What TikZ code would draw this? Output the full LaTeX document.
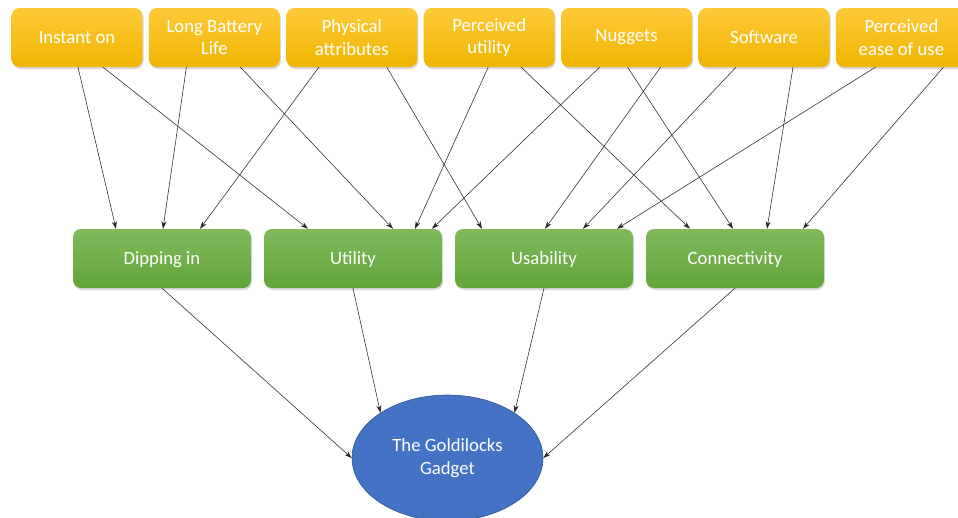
\documentclass[tikz,border=0pt]{standalone}
\usepackage{fontspec}
\setmainfont{Carlito}
\usetikzlibrary{shapes.geometric,shadows,arrows.meta}

\definecolor{goldtop}{HTML}{FFCA3A}
\definecolor{goldbot}{HTML}{EFB500}
\definecolor{greentop}{HTML}{80BA5C}
\definecolor{greenbot}{HTML}{62A43A}
\definecolor{gadgetblue}{HTML}{4472C4}
\definecolor{gadgetedge}{HTML}{2F528F}

\newcommand{\feedArrow}[4]{% #1: source node
                           % #2: shift at source
                           % #3: target node
                           % #4: shift at target
    \draw[feed] ([xshift=#2]#1.south) -- ([xshift=#4]#3.north);
   }

\begin{document}
\begin{tikzpicture}[x=1pt,y=-1pt,
  factor/.style={rounded corners=8pt, top color=goldtop, bottom color=goldbot,
                 minimum width=131pt, minimum height=59pt, inner sep=2pt,
                 text=white, align=center, font=\fontsize{18.7}{22.5}\selectfont,
                 drop shadow={shadow xshift=1pt, shadow yshift=-2pt, opacity=0.3}},
  quality/.style={rounded corners=8pt, top color=greentop, bottom color=greenbot,
                 minimum width=178pt, minimum height=59pt, inner sep=2pt,
                 text depth=0pt,
                 text=white, align=center, font=\fontsize{18.7}{22.5}\selectfont,
                 drop shadow={shadow xshift=1pt, shadow yshift=-2pt, opacity=0.3}},
  feed/.style={-{Stealth[length=7.5pt,width=5pt]}, line width=0.55pt, black!85}]

\useasboundingbox (0,0) rectangle (958,517);

\def\toprow{37.5};\def\midrow{258.5};\def\gap{137.4};


% factors
\node (instant)  [factor] at (77,\toprow)        {Instant on};
\node (battery)  [factor] at (77+\gap,\toprow)   {Long Battery\\Life};
\node (physical) [factor] at (77+2*\gap,\toprow) {Physical\\attributes};
\node (putility) [factor] at (77+3*\gap,\toprow) {Perceived\\utility};
\node (nuggets)  [factor] at (77+4*\gap,\toprow) {Nuggets};
\node (software) [factor] at (77+5*\gap,\toprow) {Software};
\node (ease)     [factor] at (77+6*\gap,\toprow) {Perceived\\ease of use};

% qualities
\node (dipping)  [quality] at (162,\midrow) {Dipping in};
\node (utility)  [quality] at (353,\midrow) {Utility};
\node (usability)[quality] at (544,\midrow) {Usability};
\node (connect)  [quality] at (735,\midrow) {Connectivity};

% goal
\node (gadget) [ellipse, fill=gadgetblue, draw=gadgetedge, line width=0.6pt,
                minimum width=191pt, minimum height=126pt, inner sep=0pt,
                text=white, align=center, font=\fontsize{18.7}{22.5}\selectfont]
               at (447.5,458) {The Goldilocks\\Gadget};


\feedArrow{instant}{1pt}{dipping}{-46pt};
\feedArrow{instant}{26pt}{utility}{-45pt};
\feedArrow{battery}{-28pt}{dipping}{1pt};
\feedArrow{battery}{26pt}{utility}{40pt};
\feedArrow{physical}{-33pt}{dipping}{38pt};
\feedArrow{physical}{35pt}{usability}{-62pt};
\feedArrow{putility}{-1pt}{utility}{62pt};
\feedArrow{putility}{32pt}{connect}{-45pt};
\feedArrow{nuggets}{-27pt}{utility}{79pt};
\feedArrow{nuggets}{1pt}{connect}{-2pt};
\feedArrow{nuggets}{34pt}{usability}{1pt};
\feedArrow{software}{-28pt}{usability}{39pt};
\feedArrow{software}{29pt}{connect}{32pt};
\feedArrow{ease}{-26pt}{usability}{73pt};
\feedArrow{ease}{42pt}{connect}{68pt};

\draw[feed] (dipping.south) -- (gadget.west);
\draw[feed] (utility.south) -- (gadget.146);
\draw[feed] (usability.south) -- (gadget.34);
\draw[feed] (connect.south) -- (gadget.east);
\end{tikzpicture}
\end{document}
